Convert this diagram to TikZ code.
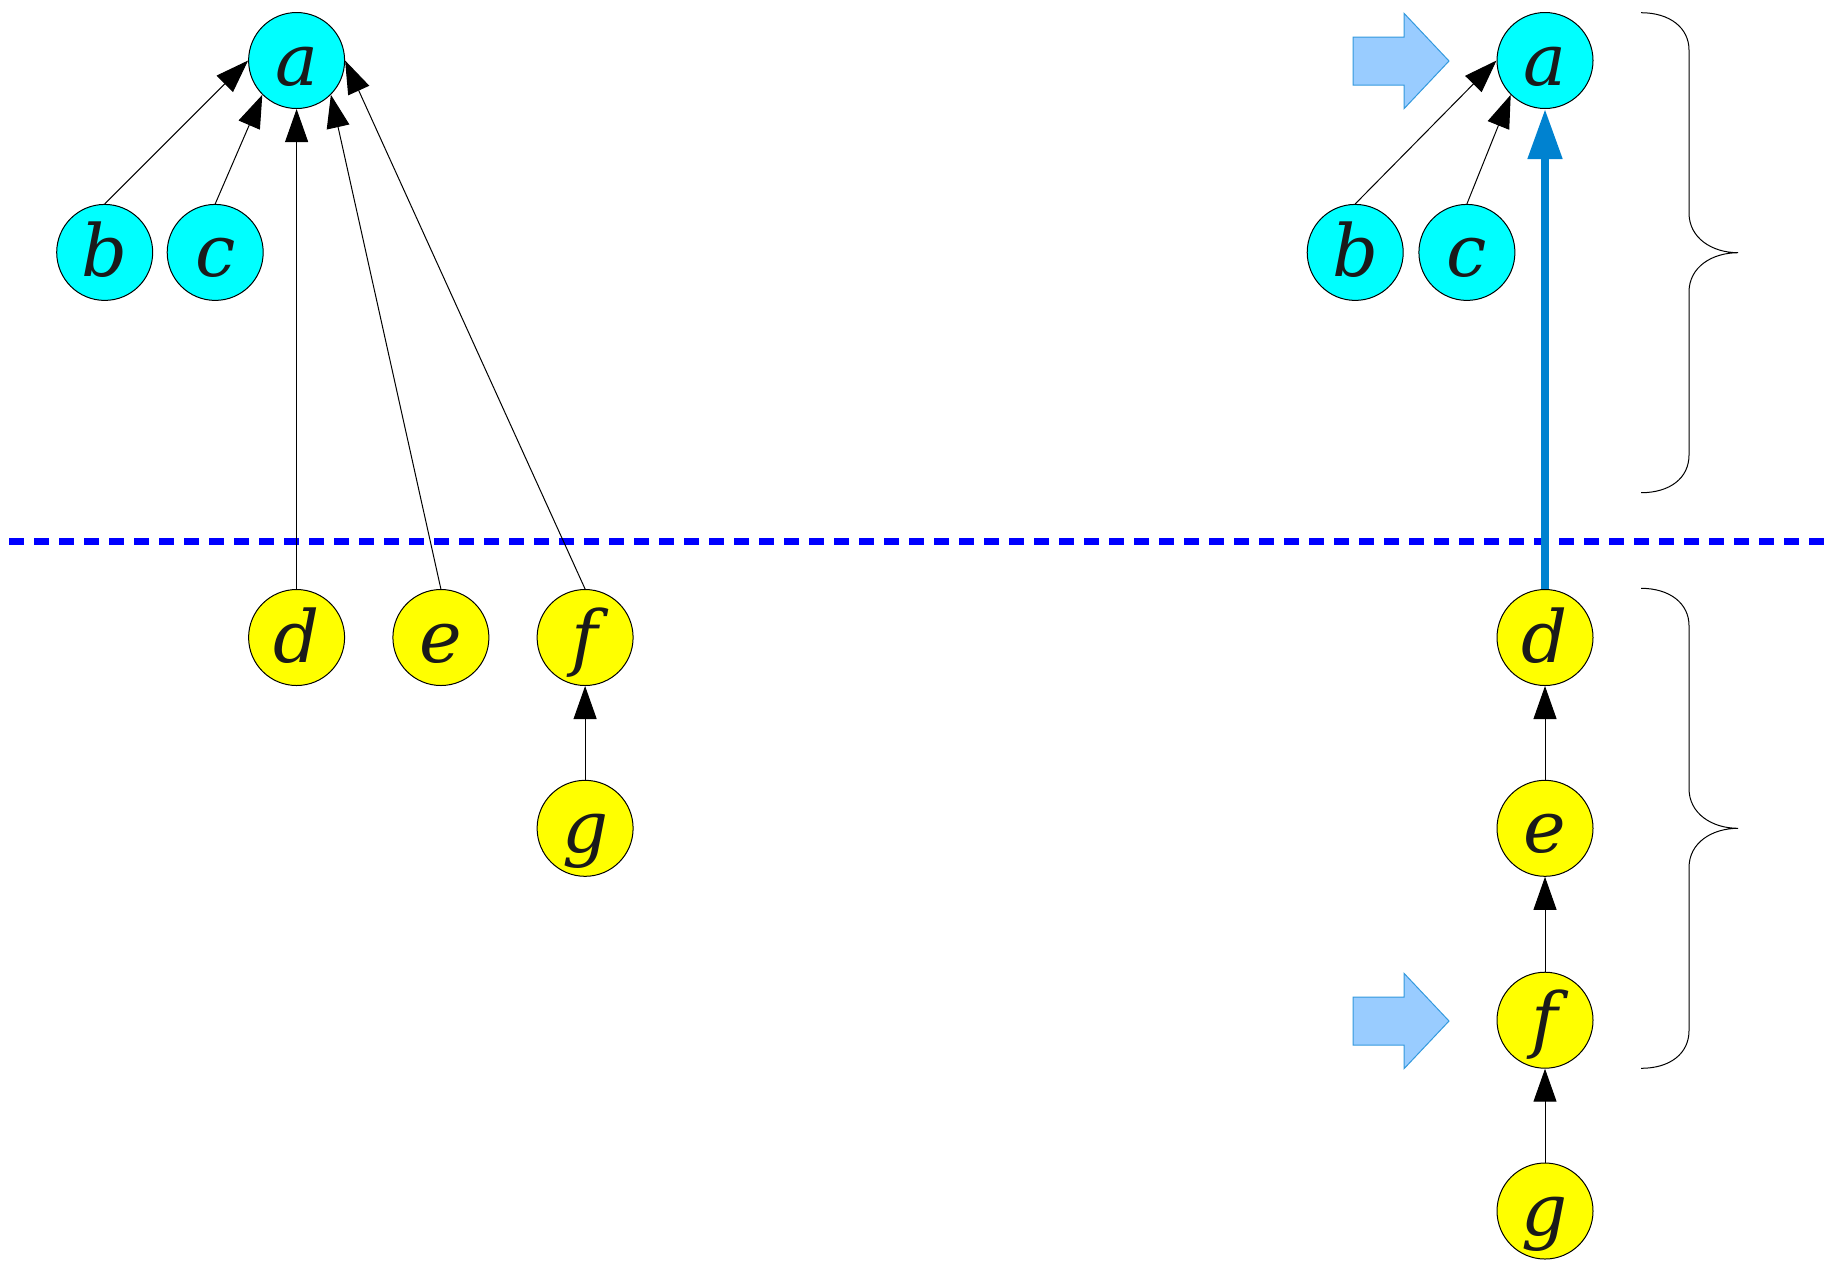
\documentclass[tikz,border=0pt]{standalone}
\usepackage{fontspec}
\setmainfont{DejaVu Serif}
\usetikzlibrary{arrows.meta}
\definecolor{nodecyan}{RGB}{0,255,255}
\definecolor{nodeyellow}{RGB}{255,255,0}
\definecolor{sepblue}{RGB}{0,0,255}
\definecolor{thickblue}{RGB}{0,130,208}
\definecolor{blockfill}{RGB}{153,204,255}
\definecolor{blockedge}{RGB}{51,153,221}
\definecolor{letter}{RGB}{26,26,26}
\tikzset{
  vtx/.style={circle,draw=black,line width=0.5pt,minimum size=48pt,inner sep=0pt,
    text height=26.5pt,text depth=2pt,text=letter,
    font=\fontsize{36}{42}\selectfont\itshape},
  cyanv/.style={vtx,fill=nodecyan},
  yelv/.style={vtx,fill=nodeyellow},
  edgearrow/.style={line width=0.5pt,-{Triangle[width=11.5pt,length=16.5pt]}},
  thickarrow/.style={draw=thickblue,line width=4pt,-{Triangle[width=16.5pt,length=25pt]}},
  sepline/.style={draw=sepblue,line width=3.5pt,dash pattern=on 7.5pt off 5pt},
  blockarrow/.style={fill=blockfill,draw=blockedge,line width=0.5pt,line join=miter},
  bracepath/.style={draw=black,line width=0.5pt}
}
\begin{document}
\begin{tikzpicture}[x=0.5pt,y=-0.5pt]
\useasboundingbox (0,0) rectangle (1824,1260);
% separator
\coordinate (sepL) at (9,541);
\coordinate (sepR) at (1824,541);
\draw[sepline] (sepL) -- (sepR);

% left graph
\node[cyanv] (la) at (296.6,60.5) {a};
\node[cyanv] (lb) at (104.7,252.4) {b};
\node[cyanv] (lc) at (215.2,252.4) {c};
\node[yelv] (ld) at (296.6,637.5) {d};
\node[yelv] (le) at (440.9,637.5) {e};
\node[yelv] (lf) at (585.1,637.5) {f};
\node[yelv] (lg) at (585.1,828.3) {g};
\draw[edgearrow] (lb.north) -- (la.west);
\draw[edgearrow] (lc.north) -- (la.south west);
\draw[edgearrow] (ld.north) -- (la.south);
\draw[edgearrow] (le.north) -- (la.south east);
\draw[edgearrow] (lf.north) -- (la.east);
\draw[edgearrow] (lg.north) -- (lf.south);

% right graph
\node[cyanv] (ra) at (1545,60.5) {a};
\node[cyanv] (rb) at (1355.2,252.4) {b};
\node[cyanv] (rc) at (1466.9,252.4) {c};
\node[yelv] (rd) at (1545,637.5) {d};
\node[yelv] (re) at (1545,828.3) {e};
\node[yelv] (rf) at (1545,1020.2) {f};
\node[yelv] (rg) at (1545,1211) {g};
\draw[edgearrow] (rb.north) -- (ra.west);
\draw[edgearrow] (rc.north) -- (ra.south west);
\draw[thickarrow] (rd.north) -- (ra.south);
\draw[edgearrow] (re.north) -- (rd.south);
\draw[edgearrow] (rf.north) -- (re.south);
\draw[edgearrow] (rg.north) -- (rf.south);

% block arrows
\foreach \cy in {61,1021}{
  \draw[blockarrow] (1353,\cy-24) -- (1404,\cy-24) -- (1404,\cy-47.7) -- (1449,\cy)
    -- (1404,\cy+47.7) -- (1404,\cy+24) -- (1353,\cy+24) -- cycle;
}

% braces
\foreach \dy in {0,575.6}{
  \begin{scope}[shift={(0,\dy)}]
  \draw[bracepath] (1641,12.7) .. controls (1670,12.7) and (1689,28) .. (1689,50)
    -- (1689,213) .. controls (1689,238) and (1712,252.7) .. (1738,252.7)
    .. controls (1712,252.7) and (1689,267) .. (1689,292)
    -- (1689,455) .. controls (1689,478) and (1670,492.7) .. (1641,492.7);
  \end{scope}
}
\end{tikzpicture}
\end{document}
